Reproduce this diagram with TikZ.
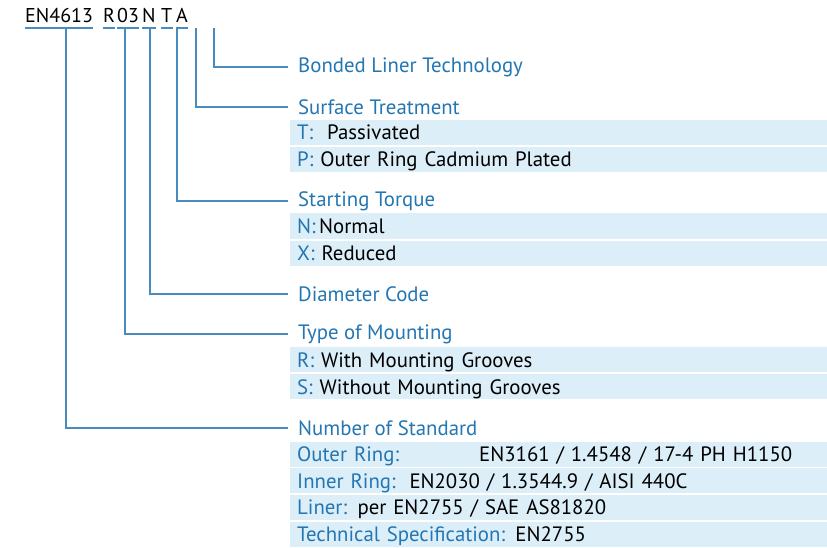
\documentclass[tikz,border=0pt]{standalone}
\usepackage{fontspec}
\setmainfont{PT Sans}
\definecolor{codeblue}{RGB}{35,118,178}
\definecolor{bandblue}{RGB}{220,238,248}
\definecolor{leadblue}{RGB}{72,140,190}
\newcommand{\key}[1]{\textcolor{codeblue}{#1}}

\begin{document}
\begin{tikzpicture}[x=1pt,y=-1pt,
  every node/.style={font=\fontsize{20.8}{23}\selectfont},
  code/.style={anchor=base west,inner xsep=0pt,inner ysep=0pt,font=\fontsize{20}{22}\selectfont},
  lead/.style={leadblue,line width=1.1pt},
  head/.style={anchor=west,inner xsep=10pt,inner ysep=0pt,text=codeblue},
  band/.style={anchor=west,fill=bandblue,text width=523pt,align=left,
    inner xsep=7pt,inner ysep=0pt,minimum height=25pt,text height=19pt,text depth=4pt}]
\useasboundingbox (0,0) rectangle (827,548);

% the code
\node[code] (en) at (25,23) {EN4613};
\node[code] (r) at (103,23) {R};
\node[code] (d) at (117,23) {03};
\node[code] (n) at (142,23) {N};
\node[code] (t) at (161,23) {T};
\node[code] (a) at (176,23) {A};
\foreach \c in {en,r,d,n,t,a}
  \draw[lead] ([yshift=-5pt]\c.base west)--([yshift=-5pt]\c.base east);

\coordinate (stdtop) at (66,28);
\coordinate (mnttop) at (125,28);
\coordinate (diatop) at (150,28);
\coordinate (trqtop) at (177,28);
\coordinate (surftop) at (196,28);
\coordinate (bondtop) at (214,28);

% headings
\node[head] (bond) at (288,67) {Bonded Liner Technology};
\node[head] (surf) at (288,107) {Surface Treatment};
\node[head] (trq) at (288,201) {Starting Torque};
\node[head] (dia) at (288,294) {Diameter Code};
\node[head] (mnt) at (288,334) {Type of Mounting};
\node[head] (std) at (288,428) {Number of Standard};

% options
\node[band] (surft) at (290,132.5) {\key{T:}\ \ Passivated};
\node[band] (surfp) at (290,159.5) {\key{P:}\ Outer Ring Cadmium Plated};
\node[band] (trqn) at (290,226) {\key{N:}\,Normal};
\node[band] (trqx) at (290,253) {\key{X:}\ Reduced};
\node[band] (mntr) at (290,359.5) {\key{R:}\ With Mounting Grooves};
\node[band] (mnts) at (290,386.5) {\key{S:}\ Without Mounting Grooves};
\node[band] (outer) at (290,454) {\makebox[182pt][l]{\key{Outer Ring:}}EN3161 / 1.4548 / 17-4 PH H1150};
\node[band] (inner) at (290,480.5) {\key{Inner Ring:}\ \ EN2030 / 1.3544.9 / AISI 440C};
\node[band] (liner) at (290,507) {\key{Liner:} per EN2755 / SAE AS81820};
\node[band] (tech) at (290,534) {\key{Technical Specification:} EN2755};

% leaders
\draw[lead] (bondtop) |- (bond.west);
\draw[lead] (surftop) |- (surf.west);
\draw[lead] (trqtop) |- (trq.west);
\draw[lead] (diatop) |- (dia.west);
\draw[lead] (mnttop) |- (mnt.west);
\draw[lead] (stdtop) |- (std.west);
\end{tikzpicture}
\end{document}
